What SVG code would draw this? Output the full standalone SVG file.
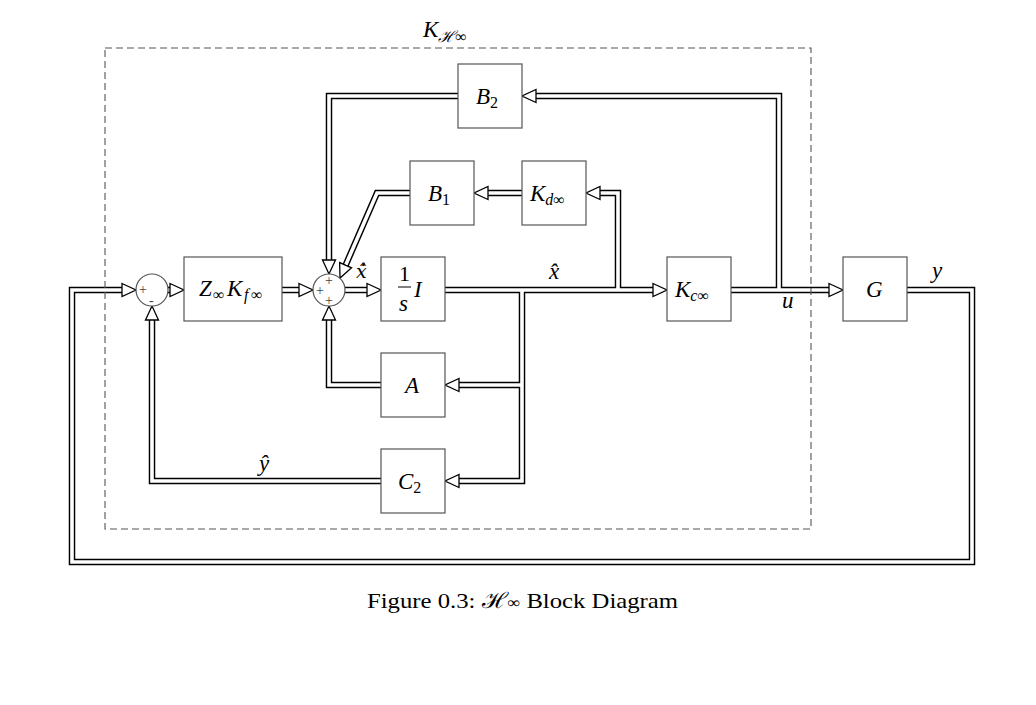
<svg xmlns="http://www.w3.org/2000/svg" width="1036" height="705" viewBox="0 0 1036 705">
<style>
.blk{fill:none;stroke:#000;stroke-width:6.5;stroke-linejoin:miter}
.wht{fill:none;stroke:#fff;stroke-width:3.6;stroke-linejoin:miter}
.box{fill:#fff;stroke:#555;stroke-width:1.2}
.sum{fill:#fff;stroke:#555;stroke-width:1.2}
.m{font-family:"Liberation Serif","DejaVu Serif",serif;font-style:italic;font-size:23px;fill:#000}
.r{font-family:"Liberation Serif","DejaVu Serif",serif;font-size:22px;fill:#000}
.sub{font-size:16px}
.n{font-style:normal}
.sg{font-family:"Liberation Serif","DejaVu Serif",serif;font-size:14px;fill:#444}
.dash{fill:none;stroke:#555;stroke-width:1.1;stroke-dasharray:7,4}
</style>
<defs>
<marker id="ah" markerUnits="userSpaceOnUse" markerWidth="18" markerHeight="16" refX="1" refY="8" orient="auto" viewBox="0 0 18 16">
<path d="M1,1.5 L15,8 L1,14.5 Z" fill="#fff" stroke="#000" stroke-width="1.3"/>
</marker>
<g id="wires">
<path id="w1" d="M907,290 H972 V562 H72 V290 H122"/>
<path id="w2" d="M168,290 H170"/>
<path id="w3" d="M282,290 H299"/>
<path id="w4" d="M345,290 H367"/>
<path id="w5" d="M445,290 H653"/>
<path id="w6" d="M522,290 V481 H459"/>
<path id="w7" d="M522,385 H459"/>
<path id="w8" d="M618,290 V193 H600"/>
<path id="w9" d="M522,193 H488"/>
<path id="w10" d="M410,193 H377 L345.6,265.2"/>
<path id="w11" d="M458,96 H329 V260"/>
<path id="w12" d="M731,290 H829"/>
<path id="w13" d="M779,290 V96 H536"/>
<path id="w14" d="M381,385 H329 V320"/>
<path id="w15" d="M381,481 H152 V320"/>
</g>
</defs>
<rect width="1036" height="705" fill="#fff"/>
<g id="connectors">
<g class="blk"><use href="#wires"/></g>
<g class="wht" marker-end="url(#ah)">
<use href="#w1"/><use href="#w2"/><use href="#w3"/><use href="#w4"/><use href="#w5"/>
<use href="#w6"/><use href="#w7"/><use href="#w8"/><use href="#w9"/><use href="#w10"/>
<use href="#w11"/><use href="#w12"/><use href="#w13"/><use href="#w14"/><use href="#w15"/>
</g>
<text class="m" x="549" y="279">x̂</text>
<text class="m" x="356" y="278" style="font-family:'DejaVu Serif',serif;font-size:19px">x̂̇</text>
<text class="m" x="259" y="471">ŷ</text>
<text class="m" x="782" y="308">u</text>
<text class="m" x="932" y="278">y</text>
</g>
<g id="kbox">
<rect class="dash" x="105" y="48" width="706" height="481"/>
<text class="m" x="423" y="37">K<tspan class="sub" dy="5">ℋ</tspan><tspan class="sub n">∞</tspan></text>
</g>
<g id="sum1">
<circle class="sum" cx="152" cy="290" r="16"/>
<text class="sg" x="139" y="294">+</text>
<text class="sg" x="149" y="305">-</text>
</g>
<g id="sum2">
<circle class="sum" cx="329" cy="290" r="16"/>
<text class="sg" x="325" y="285">+</text>
<text class="sg" x="316" y="295">+</text>
<text class="sg" x="325" y="305">+</text>
</g>
<g id="zk">
<rect class="box" x="184" y="257" width="98" height="64"/>
<text class="m" x="199" y="296">Z<tspan class="sub n" x="213" dy="4">∞</tspan><tspan x="227" dy="-4">K</tspan><tspan class="sub" x="244" dy="4">f</tspan><tspan class="sub n" x="251">∞</tspan></text>
</g>
<g id="integ">
<rect class="box" x="381" y="257" width="64" height="64"/>
<text class="r" x="399" y="281">1</text>
<line x1="398" y1="287" x2="411" y2="287" stroke="#000" stroke-width="1"/>
<text class="m" x="399" y="311">s</text>
<text class="m" x="414" y="297">I</text>
</g>
<g id="b2">
<rect class="box" x="458" y="64" width="64" height="64"/>
<text class="m" x="476" y="104">B<tspan class="sub n" dy="4">2</tspan></text>
</g>
<g id="b1">
<rect class="box" x="410" y="161" width="64" height="64"/>
<text class="m" x="428" y="201">B<tspan class="sub n" dy="4">1</tspan></text>
</g>
<g id="kd">
<rect class="box" x="522" y="161" width="64" height="64"/>
<text class="m" x="530" y="201">K<tspan class="sub" dy="4">d</tspan><tspan class="sub n">∞</tspan></text>
</g>
<g id="kc">
<rect class="box" x="667" y="257" width="64" height="64"/>
<text class="m" x="675" y="297">K<tspan class="sub" dy="4">c</tspan><tspan class="sub n">∞</tspan></text>
</g>
<g id="g">
<rect class="box" x="843" y="257" width="64" height="64"/>
<text class="m" x="866" y="297">G</text>
</g>
<g id="a">
<rect class="box" x="381" y="353" width="64" height="64"/>
<text class="m" x="405" y="393">A</text>
</g>
<g id="c2">
<rect class="box" x="381" y="449" width="64" height="64"/>
<text class="m" x="398" y="489">C<tspan class="sub n" dy="4">2</tspan></text>
</g>
<text class="r" x="367" y="608" textLength="311" lengthAdjust="spacingAndGlyphs">Figure 0.3: ℋ<tspan class="sub">∞</tspan> Block Diagram</text>
</svg>
